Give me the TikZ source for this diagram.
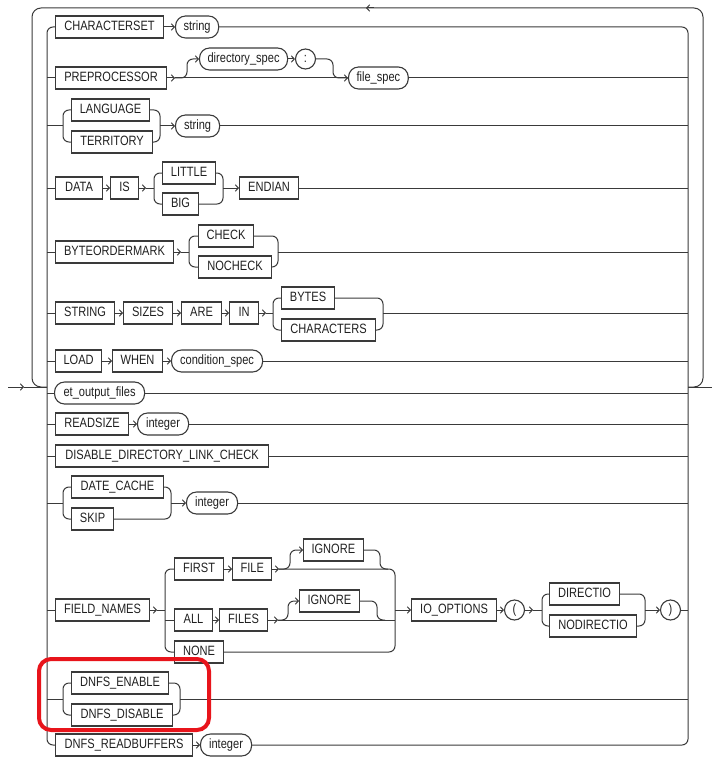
\documentclass[tikz,border=0pt]{standalone}
\usepackage{fontspec}
\setmainfont{Liberation Sans}[FakeStretch=0.82]
\usetikzlibrary{arrows.meta,calc}

\definecolor{ln}{HTML}{3A3A3A}
\definecolor{alert}{HTML}{E8141B}

\begin{document}
\begin{tikzpicture}[x=1pt,y=-1pt,
  every node/.style={font=\fontsize{13.5}{15}\selectfont, text=black!88},
  kw/.style={draw=ln, line width=1.1pt, rectangle, anchor=west,
    minimum height=22pt, inner xsep=8pt, text height=9.7pt, text depth=2.6pt},
  ref/.style={kw, rounded corners=10pt},
  sym/.style={draw=ln, line width=1.1pt, circle, minimum size=20pt, inner sep=0pt},
  rail/.style={draw=ln, line width=1pt},
  go/.style={rail, -{Straight Barb[length=3pt,width=6.5pt]}},
  railbend/.style={rail, rounded corners=6pt},
]
\useasboundingbox (0,0) rectangle (712,757);

% bus columns
\coordinate (lbus) at (47,0);
\coordinate (rbus) at (688,0);

% ---------- nodes ----------
\node[kw, minimum width=108] (cs) at (55,27) {CHARACTERSET};
\node[ref, minimum width=41] (str1) at (175,27) {string};

\node[kw, minimum width=111] (pp) at (55,78) {PREPROCESSOR};
\node[ref, minimum width=88] (dirspec) at (199,59) {directory\_spec};
\node[sym] (colon) at (305.5,59) {:};
\node[ref, minimum width=59] (filespec) at (348,78) {file\_spec};

\node[kw, minimum width=78] (lang) at (71,110) {LANGUAGE};
\node[kw, minimum width=81] (terr) at (71,142) {TERRITORY};
\node[ref, minimum width=44] (str2) at (175,126) {string};

\node[kw, minimum width=47] (data) at (55,188) {DATA};
\node[kw, minimum width=28] (is) at (110,188) {IS};
\node[kw, minimum width=53] (little) at (162,173) {LITTLE};
\node[kw, minimum width=36] (big) at (162,204) {BIG};
\node[kw, minimum width=59] (endian) at (239,188) {ENDIAN};

\node[kw, minimum width=118] (bom) at (55,252) {BYTEORDERMARK};
\node[kw, minimum width=55] (check) at (198,236) {CHECK};
\node[kw, minimum width=73] (nocheck) at (198,267) {NOCHECK};

\node[kw, minimum width=59] (strg) at (55,313) {STRING};
\node[kw, minimum width=49] (sizes) at (123,313) {SIZES};
\node[kw, minimum width=40] (are) at (181,313) {ARE};
\node[kw, minimum width=29] (inkw) at (229,313) {IN};
\node[kw, minimum width=53] (bytes) at (281,298) {BYTES};
\node[kw, minimum width=94] (chars) at (281,330) {CHARACTERS};

\node[kw, minimum width=42] (load) at (55,361) {LOAD};
\node[kw, minimum width=50] (when) at (112,361) {WHEN};
\node[ref, minimum width=91] (cond) at (171,361) {condition\_spec};

\node[ref, minimum width=90] (eof) at (54,393) {et\_output\_files};

\node[kw, minimum width=73] (rsize) at (55,424) {READSIZE};
\node[ref, minimum width=51] (int1) at (137,424) {integer};

\node[kw, minimum width=213] (ddlc) at (55,456) {DISABLE\_DIRECTORY\_LINK\_CHECK};

\node[kw, minimum width=92] (dcache) at (71,487) {DATE\_CACHE};
\node[kw, minimum width=42] (skip) at (71,519) {SKIP};
\node[ref, minimum width=51] (int2) at (186,503) {integer};

\node[kw, minimum width=94] (fn) at (55,610) {FIELD\_NAMES};
\node[kw, minimum width=49] (first) at (174,569) {FIRST};
\node[kw, minimum width=38] (file) at (232,569) {FILE};
\node[kw, minimum width=56] (ign1) at (303,550) {IGNORE};
\node[kw, minimum width=38] (all) at (174,620) {ALL};
\node[kw, minimum width=48] (files) at (219,620) {FILES};
\node[kw, minimum width=58] (ign2) at (299,601) {IGNORE};
\node[kw, minimum width=49] (none) at (174,652) {NONE};
\node[kw, minimum width=85] (io) at (411,610) {IO\_OPTIONS};
\node[sym] (lp) at (514.5,610) {(};
\node[kw, minimum width=70] (dio) at (549,594) {DIRECTIO};
\node[kw, minimum width=87] (ndio) at (549,626) {NODIRECTIO};
\node[sym] (rp) at (670.5,610) {)};

\node[kw, minimum width=97] (dnen) at (71,683) {DNFS\_ENABLE};
\node[kw, minimum width=101] (dndis) at (71,715) {DNFS\_DISABLE};

\node[kw, minimum width=137] (dnrb) at (55,745) {DNFS\_READBUFFERS};
\node[ref, minimum width=51] (int3) at (200,745) {integer};

% ---------- entry, exit and repeat loop ----------
\coordinate (in) at (8,387);
\coordinate (inarr) at (24,387);
\coordinate (jl) at (47,387);
\coordinate (jr) at (688,387);
\coordinate (out) at (712,387);
\draw[go] (in) -- (inarr);
\draw[rail] (inarr) -- (jl);
\draw[rail] (jr) -- (out);
\draw[rail, rounded corners=9pt] (jr) -| (703,8) -| (32,387) -- (jl);
\coordinate (loopa) at (374,8);
\coordinate (loopb) at (366,8);
\draw[go] (loopa) -- (loopb);

% ---------- choice buses ----------
\draw[railbend] (cs.west) -| (lbus |- dnrb.west) -- (dnrb.west);
\draw[railbend] (str1.east) -| (rbus |- int3.east) -- (int3.east);

% row: CHARACTERSET
\draw[go] (cs) -- (str1);

% row: PREPROCESSOR
\coordinate (pf) at (175,78);
\draw[rail] (lbus |- pp.west) -- (pp.west);
\draw[go] (pp.east) -- (pf);
\draw[go] (pf) -- (filespec);
\draw[railbend, -{Straight Barb[length=3pt,width=6.5pt]}] (pf) -| (187,59) -- (dirspec.west);
\draw[go] (dirspec) -- (colon);
\draw[railbend] (colon.east) -| (333,78) -- (filespec.west);
\draw[rail] (filespec.east) -- (filespec.east -| rbus);

% row: LANGUAGE / TERRITORY
\coordinate (b3l) at (63,126);
\coordinate (b3r) at (160,126);
\draw[rail] (lbus |- b3l) -- (b3l);
\draw[railbend] (lang.west) -| (b3l) |- (terr.west);
\draw[railbend] (lang.east) -| (b3r) |- (terr.east);
\draw[go] (b3r) -- (str2);
\draw[rail] (str2.east) -- (str2.east -| rbus);

% row: DATA IS ... ENDIAN
\coordinate (a4) at (146,188);
\coordinate (b4l) at (154,188);
\coordinate (b4r) at (223,188);
\draw[rail] (lbus |- data.west) -- (data.west);
\draw[go] (data) -- (is);
\draw[go] (is.east) -- (a4);
\draw[rail] (a4) -- (b4l);
\draw[railbend] (little.west) -| (b4l) |- (big.west);
\draw[railbend] (little.east) -| (b4r) |- (big.east);
\draw[go] (b4r) -- (endian);
\draw[rail] (endian.east) -- (endian.east -| rbus);

% row: BYTEORDERMARK
\coordinate (a5) at (181,252);
\coordinate (b5l) at (189,252);
\coordinate (b5r) at (278,252);
\draw[rail] (lbus |- bom.west) -- (bom.west);
\draw[go] (bom.east) -- (a5);
\draw[rail] (a5) -- (b5l);
\draw[railbend] (check.west) -| (b5l) |- (nocheck.west);
\draw[railbend] (check.east) -| (b5r) |- (nocheck.east);
\draw[rail] (b5r) -- (b5r -| rbus);

% row: STRING SIZES ARE IN
\coordinate (a6) at (266,313);
\coordinate (b6l) at (273,313);
\coordinate (b6r) at (383,313);
\draw[rail] (lbus |- strg.west) -- (strg.west);
\draw[go] (strg) -- (sizes);
\draw[go] (sizes) -- (are);
\draw[go] (are) -- (inkw);
\draw[go] (inkw.east) -- (a6);
\draw[rail] (a6) -- (b6l);
\draw[railbend] (bytes.west) -| (b6l) |- (chars.west);
\draw[railbend] (bytes.east) -| (b6r) |- (chars.east);
\draw[rail] (b6r) -- (b6r -| rbus);

% row: LOAD WHEN
\draw[rail] (lbus |- load.west) -- (load.west);
\draw[go] (load) -- (when);
\draw[go] (when) -- (cond);
\draw[rail] (cond.east) -- (cond.east -| rbus);

% row: et_output_files
\draw[rail] (lbus |- eof.west) -- (eof.west);
\draw[rail] (eof.east) -- (eof.east -| rbus);

% row: READSIZE
\draw[rail] (lbus |- rsize.west) -- (rsize.west);
\draw[go] (rsize) -- (int1);
\draw[rail] (int1.east) -- (int1.east -| rbus);

% row: DISABLE_DIRECTORY_LINK_CHECK
\draw[rail] (lbus |- ddlc.west) -- (ddlc.west);
\draw[rail] (ddlc.east) -- (ddlc.east -| rbus);

% row: DATE_CACHE / SKIP
\coordinate (b11l) at (63,503);
\coordinate (b11r) at (171,503);
\draw[rail] (lbus |- b11l) -- (b11l);
\draw[railbend] (dcache.west) -| (b11l) |- (skip.west);
\draw[railbend] (dcache.east) -| (b11r) |- (skip.east);
\draw[go] (b11r) -- (int2);
\draw[rail] (int2.east) -- (int2.east -| rbus);

% row: FIELD_NAMES
\coordinate (a12) at (157,610);
\coordinate (f12l) at (165,610);
\coordinate (f12r) at (395,610);
\coordinate (a12b) at (279,569);
\coordinate (a12c) at (278,620);
\coordinate (a12d) at (533,610);
\coordinate (b12l) at (542,610);
\coordinate (b12r) at (645,610);
\draw[rail] (lbus |- fn.west) -- (fn.west);
\draw[go] (fn.east) -- (a12);
\draw[rail] (a12) -- (f12l);
\draw[railbend] (first.west) -| (f12l |- none.west) -- (none.west);
\draw[rail] (f12l |- all.west) -- (all.west);
\draw[go] (first) -- (file);
\draw[go] (file.east) -- (a12b);
\draw[railbend] (a12b) -| (f12r |- none.east) -- (none.east);
\draw[railbend, -{Straight Barb[length=3pt,width=6.5pt]}] (a12b) -| (290,550) -- (ign1.west);
\draw[railbend] (ign1.east) -| (380,569) -- (388,569);
\draw[go] (all) -- (files);
\draw[go] (files.east) -- (a12c);
\draw[rail] (a12c) -- (f12r |- a12c);
\draw[railbend, -{Straight Barb[length=3pt,width=6.5pt]}] (a12c) -| (288,601) -- (ign2.west);
\draw[railbend] (ign2.east) -| (377,620) -- (385,620);
\draw[go] (f12r) -- (io);
\draw[go] (io) -- (lp);
\draw[go] (lp.east) -- (a12d);
\draw[rail] (a12d) -- (b12l);
\draw[railbend] (dio.west) -| (b12l) |- (ndio.west);
\draw[railbend] (dio.east) -| (b12r) |- (ndio.east);
\draw[go] (b12r) -- (rp);
\draw[rail] (rp.east) -- (rp.east -| rbus);

% row: DNFS_ENABLE / DNFS_DISABLE
\coordinate (b13l) at (63,699);
\coordinate (b13r) at (180,699);
\draw[rail] (lbus |- b13l) -- (b13l);
\draw[railbend] (dnen.west) -| (b13l) |- (dndis.west);
\draw[railbend] (dnen.east) -| (b13r) |- (dndis.east);
\draw[rail] (b13r) -- (b13r -| rbus);

% row: DNFS_READBUFFERS
\draw[go] (dnrb) -- (int3);

% highlight frame
\draw[alert, line width=4pt, rounded corners=12pt] (39,659) rectangle (209,730);
\end{tikzpicture}
\end{document}
